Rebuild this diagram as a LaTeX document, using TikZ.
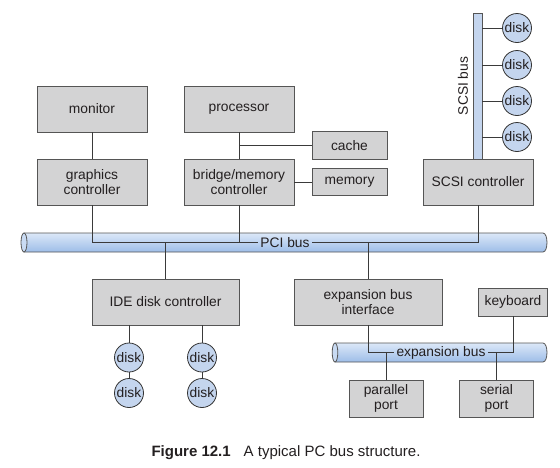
\documentclass[tikz,border=0pt]{standalone}
\usepackage{fontspec}
\setmainfont{Liberation Sans}
\definecolor{boxfill}{HTML}{D3D3D4}
\definecolor{boxline}{HTML}{555555}
\definecolor{diskfill}{HTML}{C4D5EE}
\definecolor{bustop}{HTML}{DCE8F8}
\definecolor{busbot}{HTML}{9DBDE8}
\definecolor{wirec}{HTML}{3A3A3A}
\definecolor{txt}{HTML}{231F20}
\newcommand{\lbl}{\fontsize{13.8}{15.5}\selectfont}
\begin{document}
\begin{tikzpicture}[x=1pt,y=-1pt,
  box/.style={draw=boxline, fill=boxfill, line width=0.9pt, inner sep=0pt, align=center, font=\lbl, text=txt},
  bigbox/.style={box, minimum width=110pt, minimum height=46pt},
  smallbox/.style={box, minimum width=75pt, minimum height=27.5pt},
  portbox/.style={box, minimum width=74pt, minimum height=37pt},
  disk/.style={circle, draw=black!80, fill=diskfill, line width=0.8pt, minimum size=29pt, inner sep=0pt, font=\lbl, text=txt},
  wire/.style={draw=wirec, line width=0.9pt},
  buslabel/.style={font=\lbl, text=txt, inner sep=2pt},
  busbody/.style={top color=bustop, bottom color=busbot, draw=boxline, line width=0.8pt},
  busend/.style={fill=bustop!70!busbot, draw=boxline, line width=0.8pt}]
\useasboundingbox (0,0) rectangle (560,467);

% top boxes
\node[bigbox] (monitor) at (92,109) {monitor};
\node[bigbox] (processor) at (239,109) {processor};
\node[bigbox] (graphics) at (92,182) {graphics\\controller};
\node[bigbox] (bridge) at (239,182) {bridge/memory\\controller};
\node[smallbox] (cache) at (349.5,145.5) {cache};
\node[smallbox] (memory) at (349.5,182) {memory};
\node[bigbox] (scsic) at (478,182) {SCSI controller};

% SCSI bus
\node[draw=boxline, fill=diskfill, line width=0.8pt, minimum width=9pt, minimum height=146pt, inner sep=0pt] (scsibus) at (477.5,86) {};
\node[buslabel, rotate=90] (scsilbl) at (463,86) {SCSI bus};
\node[disk] (s1) at (517,28) {disk};
\node[disk] (s2) at (517,65) {disk};
\node[disk] (s3) at (517,101) {disk};
\node[disk] (s4) at (517,137) {disk};
\foreach \d in {s1,s2,s3,s4} \draw[wire] (scsibus.east |- \d) -- (\d);

% PCI bus
\shadedraw[busbody] (24,233) -- (543,233) .. controls (548.3,233) and (548.3,252) .. (543,252) -- (24,252) -- cycle;
\draw[busend] (24,242.5) ellipse [x radius=3, y radius=9.5];
\node[buslabel] (pcibus) at (285,242.5) {PCI bus};

% middle boxes
\node[box, minimum width=147pt, minimum height=46pt] (ide) at (165.5,302) {IDE disk controller};
\node[box, minimum width=148pt, minimum height=46pt] (ebi) at (368,302) {expansion bus\\interface};
\node[box, minimum width=69pt, minimum height=28pt] (keyboard) at (513,302) {keyboard};

% IDE disks
\node[disk] (d1) at (129,357.5) {disk};
\node[disk] (d2) at (129,393) {disk};
\node[disk] (d3) at (202,357.5) {disk};
\node[disk] (d4) at (202,393) {disk};

% expansion bus
\shadedraw[busbody] (335,343) -- (543,343) .. controls (548.3,343) and (548.3,362) .. (543,362) -- (335,362) -- cycle;
\draw[busend] (335,352.5) ellipse [x radius=2.8, y radius=9.5];
\node[buslabel] (expbus) at (441,352.5) {expansion bus};

% ports
\node[portbox] (parallel) at (386,398.5) {parallel\\port};
\node[portbox] (serial) at (496.5,398.5) {serial\\port};

% connectors
\draw[wire] (monitor) -- (graphics);
\draw[wire] (processor) -- (bridge);
\draw[wire] (processor.south |- cache.west) -- (cache.west);
\draw[wire] (bridge) -- (memory);
\draw[wire] (graphics.south) |- (pcibus.west);
\draw[wire] (bridge.south) -- (bridge.south |- pcibus.west);
\draw[wire] (scsic.south) |- (pcibus.east);
\draw[wire] (ide.north) -- (ide.north |- pcibus.west);
\draw[wire] (ebi.north) -- (ebi.north |- pcibus.west);
\draw[wire] (ide.south -| d1) -- (d1);
\draw[wire] (d1) -- (d2);
\draw[wire] (ide.south -| d3) -- (d3);
\draw[wire] (d3) -- (d4);
\draw[wire] (ebi.south) |- (expbus.west);
\draw[wire] (keyboard.south) |- (expbus.east);
\draw[wire] (parallel.north) -- (parallel.north |- expbus.west);
\draw[wire] (serial.north) -- (serial.north |- expbus.east);

% caption
\node[text=txt, inner sep=0pt] (caption) at (286,453) {\fontsize{15}{17}\selectfont\textbf{Figure 12.1}\hspace{13pt}A typical PC bus structure.};
\end{tikzpicture}
\end{document}
